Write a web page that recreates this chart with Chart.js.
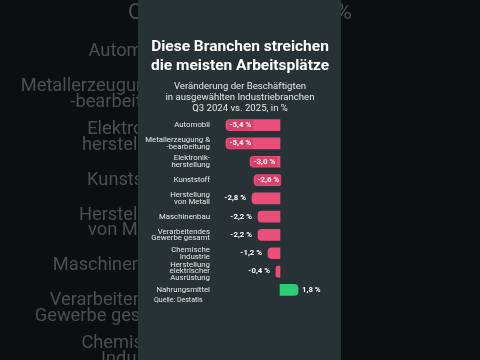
<!DOCTYPE html>
<html><head><meta charset="utf-8">
<script src="https://cdn.jsdelivr.net/npm/chart.js@4/dist/chart.umd.min.js"></script>
<style>html,body{margin:0;padding:0;background:#0b0f12;}canvas{display:block;}</style>
</head><body>
<canvas id="c" width="480" height="360"></canvas>
<script>
const titleLines = ["Diese Branchen streichen", "die meisten Arbeitsplätze"];
const subtitleLines = ["Veränderung der Beschäftigten", "in ausgewählten Industriebranchen", "Q3 2024 vs. 2025, in %"];
const sourceText = "Quelle: Destatis";
const categories = [
  ["Automobil"],
  ["Metallerzeugung &", "-bearbeitung"],
  ["Elektronik-", "herstellung"],
  ["Kunststoff"],
  ["Herstellung", "von Metall"],
  ["Maschinenbau"],
  ["Verarbeitendes", "Gewerbe gesamt"],
  ["Chemische", "Industrie"],
  ["Herstellung", "elektrischer", "Ausrüstung"],
  ["Nahrungsmittel"]
];
const values = [-5.4, -5.4, -3.0, -2.6, -2.8, -2.2, -2.2, -1.2, -0.4, 1.8];
const valueLabels = ["-5,4 %", "-5,4 %", "-3,0 %", "-2,6 %", "-2,8 %", "-2,2 %", "-2,2 %", "-1,2 %", "-0,4 %", "1,8 %"];
const insideLabel = [true, true, true, true, false, false, false, false, false, false];

const PINK = "#ea4f7b", PINK_DARK = "#d5426a", GREEN = "#2fcb77";
const PANEL = "#263235", OUTER = "#0b0f12";
const FONT = "Roboto, 'Liberation Sans', Arial, sans-serif";

const decor = {
  id: "decor",
  beforeDraw(chart) {
    const ctx = chart.ctx;
    ctx.save();
    ctx.fillStyle = OUTER;
    ctx.fillRect(0, 0, 480, 360);
    const s = 2.34;
    ctx.save();
    ctx.translate(240, 180);
    ctx.scale(s, s);
    ctx.translate(-240, -180);
    ctx.fillStyle = "#4a4f52";
    ctx.font = "7.8px " + FONT;
    ctx.textAlign = "right";
    ctx.textBaseline = "middle";
    const yScale = chart.scales.y;
    categories.forEach((lines, i) => {
      const yc = yScale.getPixelForValue(i);
      const lh = 6.6;
      lines.forEach((t, j) => {
        ctx.fillText(t, 211, yc + (j - (lines.length - 1) / 2) * lh);
      });
    });
    ctx.textAlign = "center";
    ctx.font = "9.6px " + FONT;
    subtitleLines.forEach((t, j) => ctx.fillText(t, 240, 87 + j * 11));
    ctx.restore();
    ctx.fillStyle = PANEL;
    ctx.fillRect(138, 0, 203, 360);
    ctx.restore();
  },
  afterDraw(chart) {
    const ctx = chart.ctx;
    ctx.save();
    ctx.textBaseline = "middle";
    ctx.textAlign = "center";
    ctx.fillStyle = "#ffffff";
    ctx.font = "bold 15.5px " + FONT;
    titleLines.forEach((t, j) => ctx.fillText(t, 240, 47 + j * 19));
    ctx.fillStyle = "#e6e8e8";
    ctx.font = "9.6px " + FONT;
    subtitleLines.forEach((t, j) => ctx.fillText(t, 240, 87 + j * 11));
    ctx.textAlign = "left";
    ctx.font = "7px " + FONT;
    ctx.fillText(sourceText, 154, 300);
    const meta = chart.getDatasetMeta(0);
    ctx.font = "bold 7.8px " + FONT;
    meta.data.forEach((el, i) => {
      const v = values[i];
      const t = valueLabels[i];
      const w = ctx.measureText(t).width;
      if (v < 0 && insideLabel[i]) {
        ctx.fillStyle = PINK_DARK;
        ctx.fillRect(el.x + 1.5, el.y - 5, w + 4, 10);
        ctx.fillStyle = "#ffffff";
        ctx.textAlign = "left";
        ctx.fillText(t, el.x + 3.5, el.y);
      } else if (v < 0) {
        ctx.fillStyle = "#ffffff";
        ctx.textAlign = "right";
        ctx.fillText(t, el.x - 6, el.y);
      } else {
        ctx.fillStyle = "#ffffff";
        ctx.textAlign = "left";
        ctx.fillText(t, el.x + 4, el.y);
      }
    });
    ctx.restore();
  }
};

new Chart(document.getElementById("c"), {
  type: "bar",
  data: {
    labels: categories,
    datasets: [{
      data: values,
      backgroundColor: values.map(v => v < 0 ? PINK : GREEN),
      borderRadius: 4,
      barThickness: 11
    }]
  },
  options: {
    indexAxis: "y",
    responsive: false,
    animation: false,
    devicePixelRatio: 1,
    layout: { padding: { left: 139, right: 156, top: 116, bottom: 61 } },
    plugins: { legend: { display: false }, tooltip: { enabled: false } },
    scales: {
      x: { display: false, min: -6.4, max: 4.4 },
      y: {
        grid: { display: false, drawTicks: false },
        border: { display: false },
        afterFit(scale) { scale.width = 77; },
        ticks: {
          color: "#e6e8e8",
          padding: 6,
          font: { family: FONT, size: 7.8, lineHeight: 0.85 },
          autoSkip: false
        }
      }
    }
  },
  plugins: [decor]
});
</script>
</body></html>
